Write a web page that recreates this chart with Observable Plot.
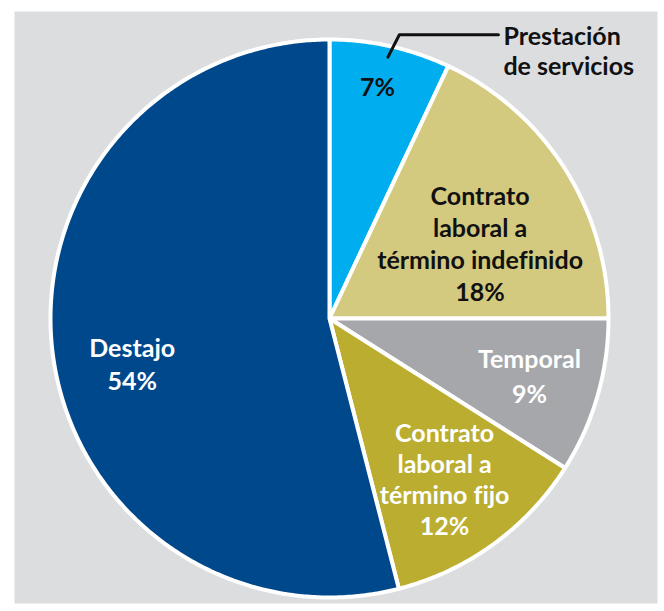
<!DOCTYPE html>
<html><head><meta charset="utf-8">
<script src="https://cdn.jsdelivr.net/npm/d3@7"></script>
<script src="https://cdn.jsdelivr.net/npm/@observablehq/plot@0.6"></script>
<style>html,body{margin:0;padding:0;background:#fff} svg text{font-variant-ligatures:none;font-feature-settings:"liga" 0}</style>
</head><body><div id="chart"></div>
<script>
// ---- data ----
const categories = ["Prestación de servicios", "Contrato laboral a término indefinido", "Temporal", "Contrato laboral a término fijo", "Destajo"];
const values = [7, 18, 9, 12, 54];
const sliceLabels = ["7%", "Contrato\nlaboral a\ntérmino indefinido\n18%", "Temporal\n9%", "Contrato\nlaboral a\ntérmino fijo\n12%", "Destajo\n54%"];
const calloutLabel = "Prestación\nde servicios";
const colors = ["#00aeef", "#d3c97f", "#a6a7aa", "#bbad2f", "#00488c"];

// ---- layout (styles, not data) ----
const labelLayout = [
  {r: 0.84, dx: -3, dy: -4, fill: "#111", lh: 1.25},
  {r: 0.72, dx: -19, dy: 32, fill: "#111", lh: 1.28},
  {r: 0.72, dx: 7, dy: 0, fill: "#fff", lh: 1.4},
  {r: 0.72, dx: -3, dy: -2, fill: "#fff", lh: 1.24},
  {r: 0.72, dx: 2, dy: 19, fill: "#fff", lh: 1.32}
];

const total = d3.sum(values);
let acc = 0;
const slices = categories.map((c, i) => {
  const a0 = acc / total * 2 * Math.PI; acc += values[i];
  const a1 = acc / total * 2 * Math.PI;
  return {category: c, label: sliceLabels[i], value: values[i], a0, a1, mid: (a0 + a1) / 2, i};
});

const pts = [];
for (const s of slices) {
  pts.push({category: s.category, x: 0, y: 0});
  const n = Math.max(2, Math.ceil((s.a1 - s.a0) / (Math.PI / 360)));
  for (let k = 0; k <= n; k++) {
    const a = s.a0 + (s.a1 - s.a0) * k / n;
    pts.push({category: s.category, x: Math.sin(a), y: Math.cos(a)});
  }
}

const font = "Lato, 'Liberation Sans', sans-serif";
const textMarks = slices.map(s => {
  const L = labelLayout[s.i];
  return Plot.text([s], {
    x: d => L.r * Math.sin(d.mid), y: d => L.r * Math.cos(d.mid), text: "label",
    dx: L.dx, dy: L.dy, fill: L.fill, fontSize: 25, fontWeight: "bold", lineHeight: L.lh,
    textAnchor: "middle", fontFamily: font
  });
});

// leader line for first slice
const s0 = slices[0];
const start = {x: 0.96 * Math.sin(s0.mid), y: 0.96 * Math.cos(s0.mid)};
const elbow = {x: start.x + 0.041, y: start.y + 0.080};
const end = {x: elbow.x + 0.355, y: elbow.y};
const leader = [start, elbow, end];

const chart = Plot.plot({
  width: 664, height: 611,
  marginLeft: 14, marginRight: 7, marginTop: 11, marginBottom: 8,
  x: {domain: [-315 / 279, 328 / 279], axis: null},
  y: {domain: [-285 / 279, 307 / 279], axis: null},
  color: {domain: categories, range: colors},
  style: {background: "transparent", fontFamily: font},
  marks: [
    Plot.frame({fill: "#dcdddf", stroke: "none"}),
    Plot.line(pts, {x: "x", y: "y", z: "category", fill: "category", stroke: "white", strokeWidth: 4, curve: "linear-closed", strokeLinejoin: "round"}),
    ...textMarks,
    Plot.line(leader, {x: "x", y: "y", stroke: "#111", strokeWidth: 3}),
    Plot.text([end], {x: "x", y: "y", text: () => calloutLabel, dx: 5, dy: 16, textAnchor: "start", fill: "#111", fontSize: 25, fontWeight: "bold", lineHeight: 1.2, fontFamily: font})
  ]
});
document.getElementById("chart").appendChild(chart);
</script>
</body></html>
